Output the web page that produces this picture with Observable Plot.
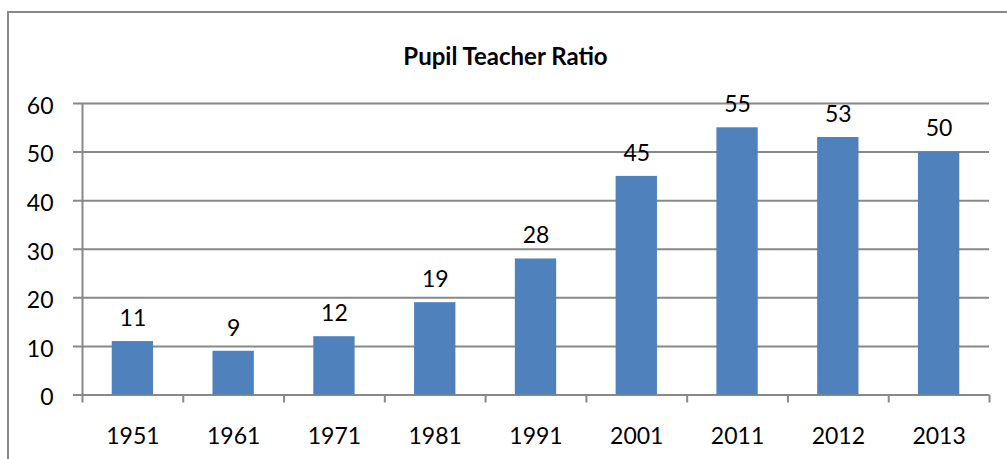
<!DOCTYPE html>
<html>
<head>
<meta charset="utf-8">
<script src="https://cdn.jsdelivr.net/npm/d3@7"></script>
<script src="https://cdn.jsdelivr.net/npm/@observablehq/plot@0.6"></script>
<style>
  html, body { margin: 0; padding: 0; background: #fff; }
  #wrap { position: relative; width: 1007px; height: 459px; overflow: hidden; font-family: Lato, "Open Sans", sans-serif; }
  #border { position: absolute; left: 7px; top: 11px; width: 1100px; height: 500px; border-top: 2px solid #898989; border-left: 2px solid #898989; }
  #title { position: absolute; left: 0; width: 1011px; top: 41px; text-align: center; font-weight: bold; font-size: 24px; color: #000; }
  #chart { position: absolute; left: 0; top: 0; }
</style>
</head>
<body>
<div id="wrap">
  <div id="border"></div>
  <div id="title">Pupil Teacher Ratio</div>
  <div id="chart"></div>
</div>
<script>
const years = ["1951", "1961", "1971", "1981", "1991", "2001", "2011", "2012", "2013"];
const ratios = [11, 9, 12, 19, 28, 45, 55, 53, 50];
const yTicks = [0, 10, 20, 30, 40, 50, 60];

const data = years.map((year, i) => ({year, value: ratios[i]}));

const W = 1007, H = 459;
const mL = 82, mR = 18, mT = 103, mB = 64.5;
const step = (W - mL - mR) / years.length;
const grid = "#888888";

const chart = Plot.plot({
  width: W,
  height: H,
  marginLeft: mL,
  marginRight: mR,
  marginTop: mT,
  marginBottom: mB,
  style: {fontFamily: "Lato, 'Open Sans', sans-serif", fontSize: "23px", color: "#000", background: "transparent", overflow: "visible"},
  x: {domain: years, paddingInner: 0.59, paddingOuter: 0.295, round: false, label: null},
  y: {domain: [0, 60], label: null},
  marks: [
    Plot.ruleY(yTicks, {y: d => d, stroke: grid, strokeWidth: 2, insetLeft: -9}),
    Plot.barY(data, {x: "year", y: "value", fill: "#4F81BD"}),
    Plot.ruleX(years, {x: d => d, dx: -step / 2, y1: 0, y2: 0, insetBottom: -8, stroke: grid, strokeWidth: 2}),
    Plot.ruleX(years.slice(0, 1), {x: d => d, dx: -step / 2, y1: 60, y2: 0, stroke: grid, strokeWidth: 2}),
    Plot.ruleX(years.slice(-1), {x: d => d, dx: step / 2, y1: 0, y2: 0, insetBottom: -8, stroke: grid, strokeWidth: 2}),
    Plot.text(data, {x: "year", y: "value", text: d => String(d.value), dy: -23, fontSize: 23, fill: "#000"}),
    Plot.axisY(yTicks, {tickSize: 0, tickPadding: 29, dy: 3, fontSize: 23, fill: "#000", label: null}),
    Plot.axisX({tickSize: 0, tickPadding: 33, fontSize: 23, fill: "#000", label: null})
  ]
});
document.getElementById("chart").appendChild(chart);
</script>
</body>
</html>
